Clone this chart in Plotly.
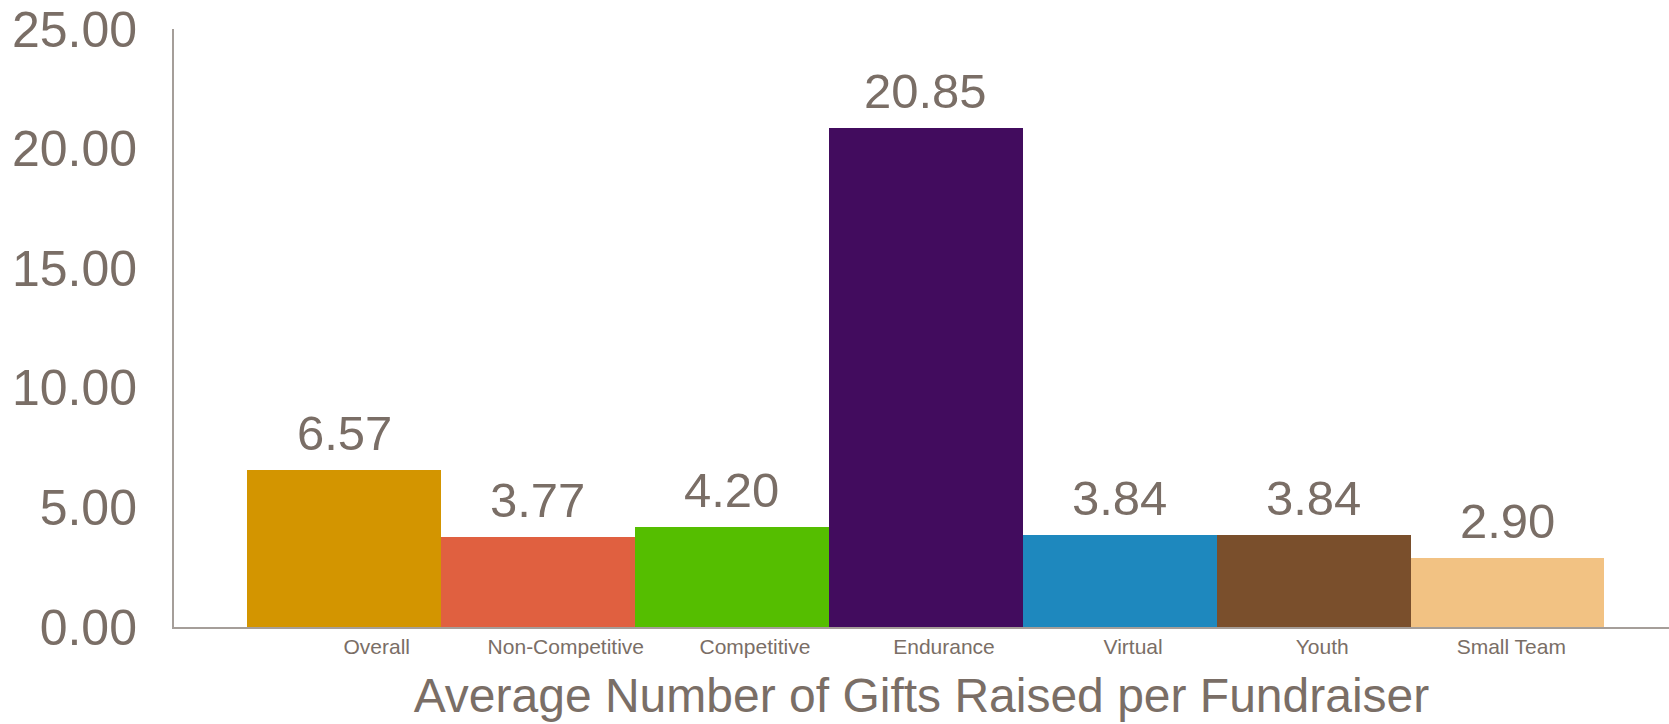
import plotly.graph_objects as go

categories = ["Overall", "Non-Competitive", "Competitive", "Endurance", "Virtual", "Youth", "Small Team"]
values = [6.57, 3.77, 4.20, 20.85, 3.84, 3.84, 2.90]
colors = ["#D39500", "#E06040", "#55BE00", "#420C5E", "#1E88BE", "#7A4F2C", "#F2C283"]
y_ticks = [0, 5, 10, 15, 20, 25]
x_title = "Average Number of Gifts Raised per Fundraiser"

TEXT = "#7a6e66"
AXIS = "#a59e99"
FONT = "Liberation Sans, Arial, sans-serif"

idx = list(range(len(categories)))

fig = go.Figure()
fig.add_trace(go.Bar(
    x=idx, y=values, width=1.0,
    marker=dict(color=colors, line=dict(width=0)),
    showlegend=False, hoverinfo="skip",
))
# invisible trace so the label axis is drawn
fig.add_trace(go.Scatter(
    x=idx, y=[0] * len(idx), xaxis="x2", yaxis="y",
    mode="markers", marker=dict(opacity=0), showlegend=False, hoverinfo="skip",
))

annotations = [
    dict(x=i, y=v, xref="x", yref="y", text=f"{v:.2f}", showarrow=False,
         yanchor="bottom", yshift=8, font=dict(family=FONT, size=49, color=TEXT))
    for i, v in zip(idx, values)
]

fig.update_layout(
    width=1669, height=724,
    margin=dict(l=174, r=0, t=29, b=97),
    paper_bgcolor="white", plot_bgcolor="white",
    bargap=0,
    annotations=annotations,
    xaxis=dict(
        range=[-0.877, 6.833], showgrid=False, zeroline=False,
        showticklabels=False, showline=True, linecolor=AXIS, linewidth=2,
        ticks="",
    ),
    xaxis2=dict(
        overlaying="x", side="bottom", range=[-1.072, 6.834],
        tickmode="array", tickvals=idx, ticktext=categories,
        showgrid=False, zeroline=False, showline=False, ticks="",
        tickfont=dict(family=FONT, size=21, color=TEXT),
        ticklabelstandoff=5,
        title=dict(text=x_title, font=dict(family=FONT, size=48, color=TEXT), standoff=21),
    ),
    yaxis=dict(
        range=[0, 25], tickmode="array", tickvals=y_ticks,
        ticktext=[f"{t:.2f}" for t in y_ticks],
        showgrid=False, zeroline=False, showline=True, linecolor=AXIS, linewidth=2,
        ticks="", ticklabelstandoff=25,
        tickfont=dict(family=FONT, size=50, color=TEXT),
    ),
)

fig.write_html("out.html")
